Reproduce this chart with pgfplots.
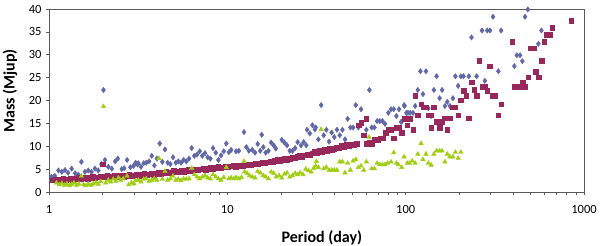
\documentclass[border=0pt]{standalone}
\usepackage{pgfplots}
\pgfplotsset{compat=1.18}
\usepackage{fontspec}
\setmainfont{Carlito}
\definecolor{cblue}{RGB}{96,104,166}
\definecolor{cpurp}{RGB}{150,40,92}
\definecolor{cgreen}{RGB}{160,205,20}
\definecolor{frame}{RGB}{90,90,90}
\begin{document}
\begin{tikzpicture}
\useasboundingbox (-49pt,-54pt) rectangle (551pt,192pt);
\begin{axis}[
  at={(0pt,0pt)}, anchor=south west,
  scale only axis, width=535pt, height=183pt,
  xmode=log, xmin=1, xmax=1000, ymin=0, ymax=40,
  xtick={1,10,100,1000}, xticklabels={1,10,100,1000},
  ytick={0,5,10,15,20,25,30,35,40},
  yticklabels={0,5,10,15,20,25,30,35,40},
  minor xtick={}, 
  axis line style={frame, line width=0.9pt},
  tick style={frame, line width=0.6pt},
  tick align=outside, major tick length=3pt,
  xtick pos=bottom, ytick pos=left,
  ticklabel style={font=\fontsize{12.5}{13}\selectfont, text=black},
  xticklabel style={yshift=-7pt},
  yticklabel style={xshift=-1pt},
  xlabel={\textbf{Period (day)}},
  ylabel={\textbf{Mass (Mjup)}},
  xlabel style={at={(axis description cs:0.51,-0.251)}, anchor=center, font=\fontsize{16}{17}\selectfont},
  ylabel style={at={(axis description cs:-0.073,0.553)}, anchor=center, rotate=0, font=\fontsize{16}{17}\selectfont},
  clip=false,
]
\addplot[only marks, mark=diamond*, mark size=2.7pt, color=cblue, mark options={draw=cblue, fill=cblue}] coordinates {
(1.03,3.3)(1.06,3.3)(1.08,3.5)(1.13,4.7)(1.18,4.4)(1.23,4.8)(1.28,4.2)(1.34,5.1)(1.40,4.1)(1.46,3.8)
(1.52,6.6)(1.59,4.4)(1.66,4.7)(1.73,4.4)(1.81,5.1)(1.89,4.7)(1.97,6.1)(2.02,22.3)(2.06,7.0)(2.15,5.5)
(2.25,5.1)(2.35,6.7)(2.43,7.3)(2.56,5.0)(2.64,5.2)(2.74,7.0)(2.86,5.4)(2.98,5.7)(3.14,6.0)(3.06,6.4)
(3.17,6.3)(3.28,5.5)(3.40,6.3)(3.51,6.4)(3.64,6.7)(3.77,7.9)(3.90,5.8)(4.03,7.3)(4.18,10.6)(4.32,6.6)
(4.47,9.3)(4.63,6.4)(4.79,6.1)(4.96,7.6)(5.14,6.4)(5.31,6.7)(5.50,6.4)(5.69,7.0)(5.89,6.7)(6.10,7.3)
(6.31,9.6)(6.53,7.9)(6.76,8.2)(7.00,8.9)(7.24,7.9)(7.50,8.5)(7.76,7.6)(8.03,7.3)(8.31,9.6)(8.61,8.6)
(8.91,7.0)(9.22,8.0)(9.55,8.9)(9.87,10.6)(10.2,8.7)(10.5,9.2)(11.2,8.9)(11.6,9.0)(12.4,13.1)(12.8,9.8)
(13.2,9.0)(13.8,9.2)(14.3,8.6)(14.8,10.5)(15.3,9.0)(15.6,12.5)(15.9,9.8)(16.4,8.6)(17.0,9.0)(17.6,10.8)
(18.2,10.2)(18.7,9.5)(20.2,11.4)(20.9,10.8)(21.6,10.2)(22.4,9.0)(23.2,9.0)(24.0,9.6)(24.8,10.9)(25.9,10.2)
(26.8,10.9)(27.7,10.2)(28.0,13.6)(29.0,12.8)(30.0,14.6)(31.0,13.7)(31.3,14.1)(32.4,11.5)(33.6,19.0)(34.7,12.4)
(35.9,13.6)(37.2,11.0)(38.5,13.0)(39.8,12.0)(41.2,13.6)(42.7,12.4)(44.2,13.6)(45.7,11.5)(47.3,16.0)(49.0,14.1)
(50.7,14.1)(52.5,19.0)(54.3,14.1)(56.2,18.1)(60.2,13.6)(62.6,22.3)(64.5,14.1)(66.8,14.1)(69.2,15.5)(71.6,15.5)
(74.1,15.5)(76.6,14.9)(80.0,17.3)(82.8,18.1)(85.7,18.1)(88.7,16.6)(91.8,18.1)(94.2,15.3)(98,19.0)(103,17.3)
(95,15.4)(98.5,18.8)(101,17.3)(106,17.3)(110,17.3)(113,18.8)(117,22.3)(121,26.4)(125,21.4)(130,26.4)
(134,18.3)(139,16.6)(144,22.3)(149,25.3)(155,20.5)(160,22.3)(166,18.8)(171,19.7)(177,18.8)(184,20.5)
(190,25.3)(197,23.2)(204,25.3)(211,25.3)(226,25.3)(234,33.8)(250,25.3)(268,35.3)(278,24.3)(287,35.3)
(297,35.3)(309,38.3)(331,26.4)(343,35.3)(407,27.5)(420,29.9)(438,29.9)(451,28.6)(467,38.3)(484,39.9)
(555,32.4)(577,35.3)
};
\addplot[only marks, mark=square*, mark size=2.3pt, color=cpurp, mark options={draw=cpurp, fill=cpurp}] coordinates {
(1.05,2.6)(1.09,2.8)(1.12,2.5)(1.16,2.7)(1.20,2.9)(1.24,2.6)(1.28,2.8)(1.32,3.0)(1.36,2.7)(1.41,2.9)
(1.46,3.1)(1.50,2.8)(1.55,3.0)(1.60,3.2)(1.65,2.9)(1.70,3.1)(1.76,3.3)(1.82,3.0)(1.88,3.2)(1.94,3.4)
(2.00,6.1)(2.05,3.3)(2.12,3.5)(2.18,3.2)(2.25,3.4)(2.32,3.6)(2.40,3.3)(2.48,3.5)(2.56,3.7)(2.64,3.4)
(2.72,3.6)(2.81,3.8)(2.90,3.5)(3.00,3.7)(3.10,3.9)(3.20,3.6)(3.30,3.8)(3.41,4.0)(3.52,3.7)(3.63,3.9)
(3.75,4.1)(3.87,3.8)(4.00,4.0)(4.13,4.3)(4.26,4.0)(4.40,4.2)(4.54,4.4)(4.69,4.1)(4.84,4.3)(5.00,4.6)
(5.16,4.3)(5.33,4.5)(5.50,4.8)(5.68,4.5)(5.86,4.7)(6.05,4.9)(6.25,4.6)(6.45,4.8)(6.66,5.0)(6.88,4.8)
(7.10,5.0)(7.33,5.2)(7.57,4.9)(7.82,5.1)(8.07,5.3)(8.33,5.1)(8.60,5.3)(8.88,5.5)(9.17,5.2)(9.47,5.4)
(9.78,5.6)(10.1,5.4)(10.4,5.6)(10.8,5.8)(11.1,5.5)(11.5,5.7)(11.9,5.9)(12.2,5.7)(12.6,5.9)(13.0,6.1)
(13.5,5.9)(13.9,6.1)(14.3,6.3)(14.8,6.1)(15.3,6.3)(15.8,6.5)(16.3,6.3)(16.8,6.5)(17.4,6.7)(17.9,6.5)
(18.5,6.8)(19.1,7.0)(19.7,6.8)(20.4,7.0)(21.0,7.3)(21.7,7.1)(22.4,7.3)(23.2,7.6)(23.9,7.4)(24.7,7.7)
(25.5,7.9)(26.3,7.6)(27.2,8.0)(28.0,8.3)(28.9,8.0)(29.9,8.5)(30.8,8.8)(31.8,8.5)(32.9,9.0)(33.9,8.8)
(35.0,9.2)(36.2,8.9)(37.3,9.4)(38.5,9.1)(39.8,9.5)(41.1,9.8)(42.4,9.6)(43.8,10.2)(45.2,9.9)(46.7,10.3)
(48.2,10.0)(49.7,10.4)(51.3,10.2)(53.0,10.6)(54.7,14.6)(56.2,15.2)(58.2,12.4)(60.2,16.0)(60.5,10.5)(62.3,10.9)
(64.5,10.5)(67.3,11.4)(69.7,11.4)(72.1,11.8)(74.7,11.8)(77.3,13.0)(80.0,13.6)(82.8,13.6)(85.7,11.8)(88.7,14.1)
(91.8,14.1)(95.0,13.0)(98,16.0)(102,16.0)(105,16.0)(102,14.6)(106,16.1)(110,13.6)(113,21.0)(117,16.8)
(122,19.2)(126,18.5)(130,18.5)(135,16.8)(139,16.8)(139,14.1)(144,18.5)(149,15.4)(155,14.1)(160,15.4)
(166,16.1)(171,13.6)(177,16.1)(184,18.5)(190,18.5)(197,16.8)(204,20.1)(211,22.1)(218,21.0)(226,16.1)
(234,24.0)(242,22.3)(250,21.0)(259,28.7)(268,23.0)(278,23.0)(287,22.1)(297,27.5)(308,21.0)(318,21.0)
(331,16.8)(343,19.2)(395,32.9)(409,23.0)(424,23.0)(438,23.0)(454,24.0)(469,23.0)(486,25.1)(503,31.4)
(525,31.4)(538,26.3)(557,25.1)(577,28.7)(597,32.9)(618,34.4)(640,34.4)(665,35.9)(847,37.5)
};
\addplot[only marks, mark=triangle*, mark size=2.6pt, color=cgreen, mark options={draw=cgreen, fill=cgreen}] coordinates {
(1.10,2.0)(1.14,1.6)(1.18,1.9)(1.22,1.5)(1.26,1.8)(1.30,1.4)(1.34,1.7)(1.38,2.0)(1.43,1.5)(1.47,1.8)
(1.52,3.5)(1.56,1.6)(1.61,1.4)(1.66,1.7)(1.72,1.5)(1.77,1.8)(1.83,2.1)(1.89,1.7)(1.95,2.3)(2.02,18.7)
(2.08,2.0)(2.15,2.6)(2.22,2.2)(2.29,2.8)(2.37,2.4)(2.45,3.1)(2.53,2.6)(2.61,2.9)(2.74,3.5)(2.80,1.6)
(2.90,2.0)(3.00,1.8)(3.06,2.5)(3.17,2.6)(3.28,2.2)(3.40,2.8)(3.51,2.9)(3.64,2.4)(3.77,2.6)(3.90,2.9)
(4.03,2.6)(4.14,7.3)(4.32,2.8)(4.47,4.5)(4.63,2.6)(4.79,2.9)(4.96,3.5)(5.14,2.6)(5.31,2.8)(5.50,2.5)
(5.69,2.9)(5.89,2.8)(6.10,2.9)(6.31,5.2)(6.53,3.8)(6.76,3.3)(7.00,2.9)(7.24,3.3)(7.50,3.6)(7.76,3.1)
(8.03,2.9)(8.31,3.8)(8.61,3.3)(8.91,2.9)(9.22,2.6)(9.55,3.2)(9.87,5.4)(10.2,2.9)(10.5,3.1)(10.9,2.9)
(11.2,3.2)(11.6,2.9)(12.0,3.2)(12.4,6.7)(12.5,4.4)(12.9,4.1)(13.3,3.6)(13.8,3.3)(14.3,3.1)(14.8,4.5)
(15.3,4.2)(15.9,3.6)(16.4,3.3)(17.0,2.9)(17.6,4.4)(18.2,4.1)(18.8,3.3)(19.5,3.6)(20.2,3.1)(20.9,3.9)
(21.6,4.2)(22.4,3.3)(23.2,3.6)(24.0,4.1)(24.8,3.8)(25.6,4.2)(26.6,3.8)(27.5,5.0)(28.5,4.7)(29.5,4.4)
(30.5,5.2)(31.6,6.7)(32.4,5.4)(31.3,5.7)(33.6,13.7)(34.7,5.1)(35.9,5.4)(37.2,4.8)(38.5,4.8)(39.8,4.8)
(41.2,4.8)(42.7,6.6)(44.2,6.6)(45.7,4.2)(47.3,6.3)(49.0,4.8)(50.7,6.8)(52.5,7.1)(54.3,5.4)(56.2,5.7)
(58.2,4.8)(60.2,6.6)(62.3,12.0)(64.5,5.1)(66.8,5.1)(69.2,6.3)(71.6,6.0)(74.1,6.0)(76.6,6.0)(79.2,6.3)
(82.8,6.6)(85.7,8.6)(88.7,6.3)(90.9,6.0)(95.0,5.4)(98,7.7)(102,6.3)(105,6.3)(109,6.8)(113,6.3)
(117,8.3)(122,10.6)(125,7.1)(130,8.3)(134,6.3)(139,5.9)(144,8.3)(149,9.0)(155,9.0)(160,9.0)
(166,6.6)(171,8.3)(177,7.7)(184,7.7)(190,8.7)(197,7.4)(204,8.7)
};
\end{axis}
\end{tikzpicture}
\end{document}
